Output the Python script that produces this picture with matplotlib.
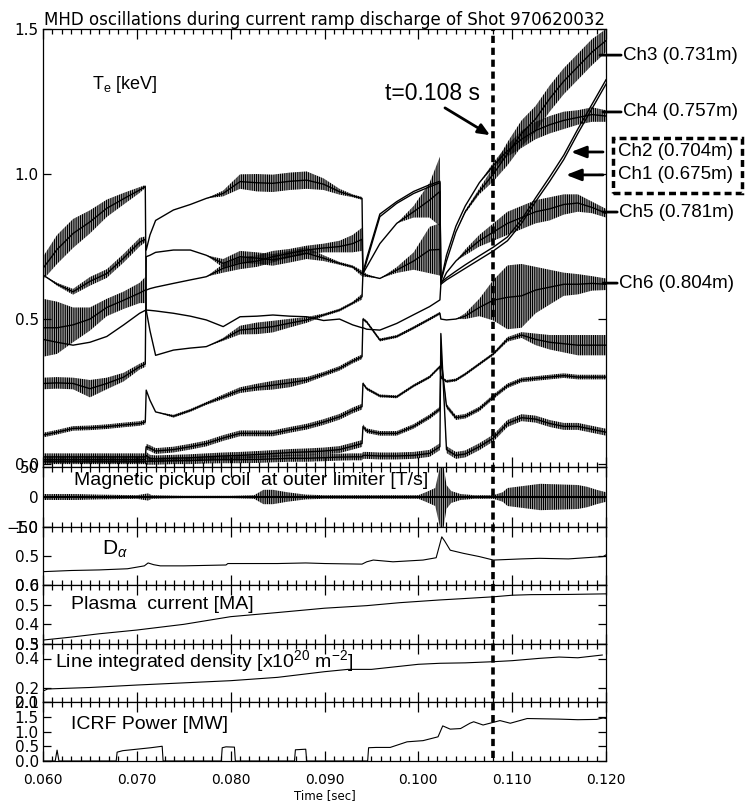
import numpy as np
import matplotlib
matplotlib.use('Agg')
import matplotlib.pyplot as plt
from matplotlib.lines import Line2D
from matplotlib.patches import Rectangle
from matplotlib.ticker import MultipleLocator, FormatStrFormatter
from matplotlib.transforms import blended_transform_factory

plt.rcParams['font.family'] = ['Liberation Sans', 'DejaVu Sans']
plt.rcParams['mathtext.fontset'] = 'custom'
plt.rcParams['mathtext.rm'] = 'Liberation Sans'
plt.rcParams['mathtext.it'] = 'Liberation Sans:italic'
plt.rcParams['hatch.linewidth'] = 0.9
plt.rcParams['hatch.color'] = 'k'

# ---- Te channels (keV) on a shared time grid; doubled instants = sawtooth crashes
t_te = [0.0600, 0.0615, 0.0632, 0.0650, 0.0668, 0.0686, 0.0703, 0.0709,
        0.0710, 0.0714, 0.0720, 0.0739, 0.0757, 0.0774, 0.0792, 0.0810,
        0.0828, 0.0845, 0.0863, 0.0881, 0.0899, 0.0916, 0.0930, 0.0940,
        0.0941, 0.0945, 0.0959, 0.0977, 0.0995, 0.1012, 0.1023,
        0.1024, 0.1030, 0.1040, 0.1050, 0.1065, 0.1080, 0.1095, 0.1110,
        0.1125, 0.1140, 0.1155, 0.1170, 0.1185, 0.1200]

te_ch1 = [.652, .62, .594, .63, .657, .71, .765, .775,
          .738, .79, .84, .876, .895, .916, .933, .974, .97, .968, .975, .979, .965, .939, .925, .916,
          .657, .70, .853, .899, .933, .956, .97,
          .62, .635, .655, .675, .705, .735, .77, .83, .905, .975, 1.05, 1.14, 1.225, 1.31]
amp_ch1 = [0, .005, .01, .015, .015, .015, .015, .01,
           0, 0, 0, 0, 0, 0, .01, .025, .03, .03, .03, .03, .02, .01, .005, .005,
           0, 0, 0, 0, 0, 0, 0,
           0, 0, 0, 0, 0, 0, 0, 0, 0, 0, 0, 0, 0, 0]

te_ch2 = [.675, .74, .795, .835, .882, .915, .945, .957,
          .53, .46, .375, .393, .40, .405, .43, .462, .468, .474, .486, .497, .514, .531, .555, .577,
          .66, .71, .862, .905, .94, .963, .975,
          .625, .642, .665, .687, .718, .748, .783, .843, .918, .99, 1.065, 1.155, 1.24, 1.325]
amp_ch2 = [.04, .05, .05, .04, .03, .02, .01, .005,
           0, 0, 0, 0, 0, 0, .005, .015, .02, .02, .015, .01, .005, .005, .005, .01,
           0, 0, 0, 0, 0, 0, 0,
           0, 0, 0, 0, 0, 0, 0, 0, 0, 0, 0, 0, 0, 0]

te_ch3 = [.47, .47, .48, .50, .54, .565, .59, .60,
          .60, .605, .61, .623, .635, .646, .675, .692, .70, .715, .727, .738, .745, .75, .76, .775,
          .657, .68, .76, .83, .87, .91, .94,
          .63, .70, .80, .87, .94, 1.00, 1.07, 1.14, 1.19, 1.26, 1.32, 1.37, 1.42, 1.46]
amp_ch3 = [.1, .09, .06, .04, .03, .03, .035, .045,
           0, 0, 0, 0, 0, 0, .015, .02, .02, .02, .015, .015, .015, .02, .03, .04,
           0, 0, 0, 0, .02, .06, .12,
           0, 0, 0, .005, .01, .025, .04, .045, .045, .045, .045, .045, .045, .04]

te_ch4 = [.278, .28, .278, .26, .278, .30, .336, .345,
          .715, .72, .73, .738, .738, .72, .692, .715, .71, .704, .715, .727, .71, .692, .68, .657,
          .656, .65, .64, .669, .70, .738, .74,
          .63, .72, .82, .89, .97, 1.03, 1.08, 1.12, 1.15, 1.17, 1.185, 1.195, 1.205, 1.20]
amp_ch4 = [.02, .02, .02, .03, .02, .015, .01, .01,
           0, 0, 0, 0, 0, 0, .015, .02, .02, .02, .02, .02, .01, .005, .005, .01,
           .01, .005, 0, .01, .03, .08, .09,
           0, 0, 0, 0, 0, .01, .02, .03, .03, .03, .03, .025, .025, .02]

te_ch5 = [.43, .42, .41, .42, .44, .48, .52, .53,
          .531, .53, .528, .52, .51, .497, .474, .508, .51, .514, .51, .508, .495, .50, .48, .47,
          .47, .465, .462, .485, .515, .543, .566,
          .62, .66, .70, .73, .77, .80, .83, .85, .87, .88, .895, .90, .885, .865]
amp_ch5 = [0, 0, 0, 0, 0, 0, 0, 0,
           0, 0, 0, 0, 0, 0, 0, 0, 0, 0, 0, 0, 0, 0, 0, 0,
           0, 0, 0, 0, 0, 0, 0,
           0, 0, 0, .01, .02, .03, .04, .04, .04, .04, .035, .03, .02, .015]

te_ch6 = [.10, .11, .123, .125, .129, .135, .14, .145,
          .255, .22, .18, .165, .185, .209, .232, .255, .265, .272, .28, .29, .31, .33, .355, .37,
          .50, .49, .428, .44, .47, .50, .52,
          .50, .497, .50, .51, .54, .565, .575, .58, .60, .61, .62, .62, .623, .62]
amp_ch6 = [.008, .008, .008, .008, .008, .008, .008, .008,
           0, 0, 0, .005, .005, .005, .008, .01, .012, .015, .015, .01, .008, .008, .008, .008,
           .005, .005, .005, .005, .005, .005, .005,
           0, 0, 0, .01, .03, .07, .11, .11, .08, .06, .04, .035, .025, .02]

te_d = [.025, .025, .025, .025, .025, .025, .025, .025,
        .06, .055, .045, .05, .06, .071, .09, .106, .106, .106, .118, .129, .145, .163, .185, .198,
        .278, .26, .235, .232, .27, .30, .336,
        .30, .285, .29, .31, .345, .38, .43, .445, .43, .42, .415, .41, .41, .41]
amp_d = [.012] * 8 + [.01] * 16 + [.005] * 7 + \
        [.005, .005, .005, .005, .005, .005, .008, .01, .02, .025, .03, .035, .035, .035]

te_e = [.015, .015, .015, .015, .015, .015, .015, .015,
        .03, .02, .018, .02, .022, .025, .028, .03, .033, .036, .04, .042, .045, .05, .062, .071,
        .129, .115, .106, .106, .13, .163, .19,
        .37, .20, .16, .165, .19, .232, .27, .29, .295, .30, .305, .30, .30, .30]
amp_e = [.01] * 8 + [.012] * 16 + [.008] * 7 + [.008] * 14

te_f = [.008, .008, .008, .008, .008, .008, .008, .008,
        .01, .01, .01, .012, .012, .014, .015, .015, .016, .018, .02, .02, .022, .024, .025, .025,
        .03, .03, .028, .028, .03, .037, .06,
        .45, .05, .03, .035, .06, .09, .14, .16, .155, .14, .13, .13, .12, .11]
amp_f = [.008] * 8 + [.012] * 16 + [.012] * 7 + [.012] * 14

te_traces = [(te_ch1, amp_ch1), (te_ch2, amp_ch2), (te_ch3, amp_ch3), (te_ch4, amp_ch4),
             (te_ch5, amp_ch5), (te_ch6, amp_ch6), (te_d, amp_d), (te_e, amp_e), (te_f, amp_f)]

# ---- magnetic pickup coil envelope (T/s)
t_mag = [0.0600, 0.0635, 0.0660, 0.0700, 0.0712, 0.0716, 0.0750, 0.0800, 0.0825, 0.0835,
         0.0845, 0.0860, 0.0880, 0.0900, 0.0950, 0.1000, 0.1008, 0.1018, 0.1023, 0.1027,
         0.1030, 0.1035, 0.1045, 0.1060, 0.1080, 0.1090, 0.1095, 0.1110, 0.1130, 0.1150,
         0.1170, 0.1180, 0.1190, 0.1200]
amp_mag = [5, 5, 4, 3, 6, 3, 2, 2, 3, 12,
           12, 8, 4, 3, 3, 3, 8, 15, 50, 50,
           20, 10, 5, 3, 3, 8, 15, 18, 22, 21,
           20, 17, 12, 8]

# ---- D-alpha
t_da = [0.0600, 0.0630, 0.0660, 0.0690, 0.0708, 0.0712, 0.0718, 0.0725, 0.0750, 0.0780,
        0.0795, 0.0797, 0.0820, 0.0850, 0.0880, 0.0900, 0.0940, 0.0945, 0.0952, 0.0973,
        0.1005, 0.1019, 0.1025, 0.1028, 0.1034, 0.1048, 0.1065, 0.1080, 0.1110, 0.1129,
        0.1160, 0.1197, 0.1200]
v_da = [.23, .25, .26, .28, .33, .38, .35, .33, .33, .34,
        .345, .37, .37, .37, .38, .37, .36, .40, .43, .40,
        .43, .47, .83, .76, .60, .546, .49, .43, .45, .46,
        .45, .49, .52]

# ---- plasma current (MA)
t_ip = [0.060, 0.063, 0.066, 0.070, 0.075, 0.080, 0.085, 0.090, 0.0945, 0.098,
        0.1023, 0.1045, 0.108, 0.110, 0.112, 0.116, 0.120]
v_ip = [.32, .335, .352, .371, .40, .439, .46, .482, .495, .51,
        .524, .53, .54, .548, .551, .552, .555]

# ---- line integrated density (1e20 m^-2)
t_ne = [0.0600, 0.0605, 0.0650, 0.0700, 0.0750, 0.0800, 0.0850, 0.0900, 0.0925, 0.0950,
        0.1000, 0.1023, 0.1050, 0.1080, 0.1100, 0.1129, 0.1150, 0.1170, 0.1196]
v_ne = [.175, .19, .20, .217, .232, .247, .27, .309, .325, .325,
        .36, .367, .37, .378, .385, .401, .41, .405, .424]

# ---- ICRF power (MW)
t_rf = [0.0600, 0.0613, 0.0615, 0.0617, 0.0678, 0.0679, 0.0685, 0.0700, 0.0715, 0.0727,
        0.0728, 0.0790, 0.0791, 0.0795, 0.0804, 0.0805, 0.0868, 0.0869, 0.0880, 0.0881,
        0.0946, 0.0947, 0.0955, 0.0970, 0.0988, 0.1005, 0.1021, 0.1026, 0.1034, 0.1045,
        0.1055, 0.1059, 0.1069, 0.1087, 0.1098, 0.1116, 0.1150, 0.1170, 0.1190, 0.1197, 0.1200]
v_rf = [0, 0, .37, 0, 0, .30, .35, .40, .45, .50,
        0, 0, .45, .48, .47, 0, 0, .38, .40, 0,
        0, .45, .46, .46, .65, .69, .82, 1.19, 1.08, 1.10,
        1.28, 1.33, 1.22, 1.37, 1.28, 1.44, 1.42, 1.40, 1.41, 1.46, 1.44]

ch_names = ['Ch3 (0.731m)', 'Ch4 (0.757m)', 'Ch2 (0.704m)', 'Ch1 (0.675m)',
            'Ch5 (0.781m)', 'Ch6 (0.804m)']

# ---------------------------------------------------------------------------
fig = plt.figure(figsize=(7.46, 8.06), dpi=100)
W, H = 746.0, 806.0
x0, w = 43 / W, 563 / W


def panel(ytop, ybot):
    return fig.add_axes([x0, 1 - ybot / H, w, (ybot - ytop) / H])


ax_te = panel(29, 467)
ax_mag = panel(467, 527)
ax_da = panel(527, 585)
ax_ip = panel(585, 644)
ax_ne = panel(644, 702)
ax_rf = panel(702, 761)
axes = [ax_te, ax_mag, ax_da, ax_ip, ax_ne, ax_rf]

for ax in axes:
    ax.set_xlim(0.060, 0.120)
    ax.xaxis.set_major_locator(MultipleLocator(0.010))
    ax.xaxis.set_minor_locator(MultipleLocator(0.001))
    ax.tick_params(which='both', direction='in', top=True, right=True, width=0.9)
    ax.tick_params(which='major', length=7)
    ax.tick_params(which='minor', length=3.5)
    ax.tick_params(axis='y', which='major', length=6, pad=3)
    for sp in ax.spines.values():
        sp.set_linewidth(0.9)
    if ax is not ax_rf:
        ax.tick_params(labelbottom=False)

HATCH = '|' * 9

# Te panel
t_arr = np.array(t_te)
for v, a in te_traces:
    v = np.array(v)
    a = np.array(a)
    ax_te.fill_between(t_arr, v - a, v + a, facecolor='none', edgecolor='k',
                       hatch=HATCH, linewidth=0)
    ax_te.plot(t_arr, v, color='k', lw=1.0)
ax_te.set_ylim(-0.01, 1.5)
ax_te.set_yticks([0.0, 0.5, 1.0, 1.5])
ax_te.yaxis.set_major_formatter(FormatStrFormatter('%.1f'))
ax_te.text(0.0652, 1.31, 'T$_\\mathrm{e}$ [keV]', fontsize=13, va='center')
ax_te.text(0.0965, 1.255, 't=0.108 s', fontsize=16.5)
ax_te.annotate('', xy=(0.10764, 1.134), xytext=(0.10284, 1.228),
               arrowprops=dict(arrowstyle='-|>,head_length=0.7,head_width=0.3',
                               lw=2, color='k', shrinkA=0, shrinkB=0))
ax_te.set_title('MHD oscillations during current ramp discharge of Shot 970620032',
                fontsize=12, family='DejaVu Sans', pad=3)

# channel labels on the right
lab_y = [1.41, 1.214, 1.076, 0.997, 0.869, 0.624]
lab_x = [0.12181, 0.12181, 0.12133, 0.12133, 0.12139, 0.12139]
for name, yy, xx in zip(ch_names, lab_y, lab_x):
    ax_te.text(xx, yy, name, fontsize=13.5, va='center', ha='left')
lead = [(0, 0.11936), (1, 0.11968), (4, 0.11968), (5, 0.11968)]
for i, xs in lead:
    ax_te.annotate('', xy=(xs, lab_y[i]), xytext=(lab_x[i] - 0.0002, lab_y[i]),
                   arrowprops=dict(arrowstyle='-', lw=2, color='k', shrinkA=0, shrinkB=0),
                   annotation_clip=False)
for i, tip in [(2, 0.11627), (3, 0.11574)]:
    ax_te.annotate('', xy=(tip, lab_y[i]), xytext=(0.11968, lab_y[i]),
                   arrowprops=dict(arrowstyle='-|>,head_length=0.9,head_width=0.35',
                                   lw=2, color='k', shrinkA=0, shrinkB=0),
                   annotation_clip=False)
fig.add_artist(Rectangle((613 / W, 1 - 193 / H), 129 / W, 55 / H, transform=fig.transFigure,
                         fill=False, lw=2.5, ls=(0, (2, 1.2)), color='k'))

# magnetic pickup coil
tm = np.array(t_mag)
am = np.array(amp_mag)
ax_mag.fill_between(tm, -am, am, facecolor='none', edgecolor='k', hatch=HATCH, linewidth=0)
ax_mag.plot(tm, np.zeros_like(tm), color='k', lw=1.5)
ax_mag.set_ylim(-50, 50)
ax_mag.set_yticks([-50, 0, 50])
ax_mag.text(0.0633, 27, 'Magnetic pickup coil  at outer limiter [T/s]', fontsize=14, va='center')

# D-alpha
ax_da.plot(t_da, v_da, color='k', lw=0.8)
ax_da.set_ylim(0, 1)
ax_da.set_yticks([0.0, 0.5, 1.0])
ax_da.yaxis.set_major_formatter(FormatStrFormatter('%.1f'))
ax_da.text(0.0663, 0.62, 'D$_\\alpha$', fontsize=15, va='center')

# plasma current
ax_ip.plot(t_ip, v_ip, color='k', lw=0.8)
ax_ip.set_ylim(0.3, 0.6)
ax_ip.set_yticks([0.3, 0.4, 0.5, 0.6])
ax_ip.yaxis.set_major_formatter(FormatStrFormatter('%.1f'))
ax_ip.text(0.0630, 0.503, 'Plasma  current [MA]', fontsize=14, va='center')

# density
ax_ne.plot(t_ne, v_ne, color='k', lw=0.8)
ax_ne.set_ylim(0.1, 0.5)
ax_ne.set_yticks([0.1, 0.2, 0.4, 0.5])
ax_ne.yaxis.set_major_formatter(FormatStrFormatter('%.1f'))
ax_ne.text(0.0613, 0.38, 'Line integrated density [x10$^{20}$ m$^{-2}$]', fontsize=14, va='center')

# ICRF
ax_rf.plot(t_rf, v_rf, color='k', lw=0.8)
ax_rf.set_ylim(0, 2)
ax_rf.set_yticks([0.0, 0.5, 1.0, 1.5, 2.0])
ax_rf.yaxis.set_major_formatter(FormatStrFormatter('%.1f'))
ax_rf.text(0.0630, 1.24, 'ICRF Power [MW]', fontsize=14, va='center')
ax_rf.xaxis.set_major_formatter(FormatStrFormatter('%.3f'))
ax_rf.tick_params(axis='x', pad=9)

for ax in axes:
    for lab in ax.get_yticklabels():
        lab.set_fontfamily('DejaVu Sans')
        lab.set_fontsize(11)
    for lab in ax.get_xticklabels():
        lab.set_fontfamily('DejaVu Sans')
        lab.set_fontsize(10)

fig.text(325 / W, 1 - 796 / H, 'Time [sec]', ha='center', va='center',
         fontsize=8.5, family='DejaVu Sans')

# t = 0.108 s marker through all panels
tr = blended_transform_factory(ax_te.transData, fig.transFigure)
fig.add_artist(Line2D([0.108, 0.108], [1 - 758 / H, 1 - 29 / H], transform=tr,
                      color='k', lw=2.6, ls=(0, (2, 1.3))))

fig.savefig('out.png', dpi=100)
